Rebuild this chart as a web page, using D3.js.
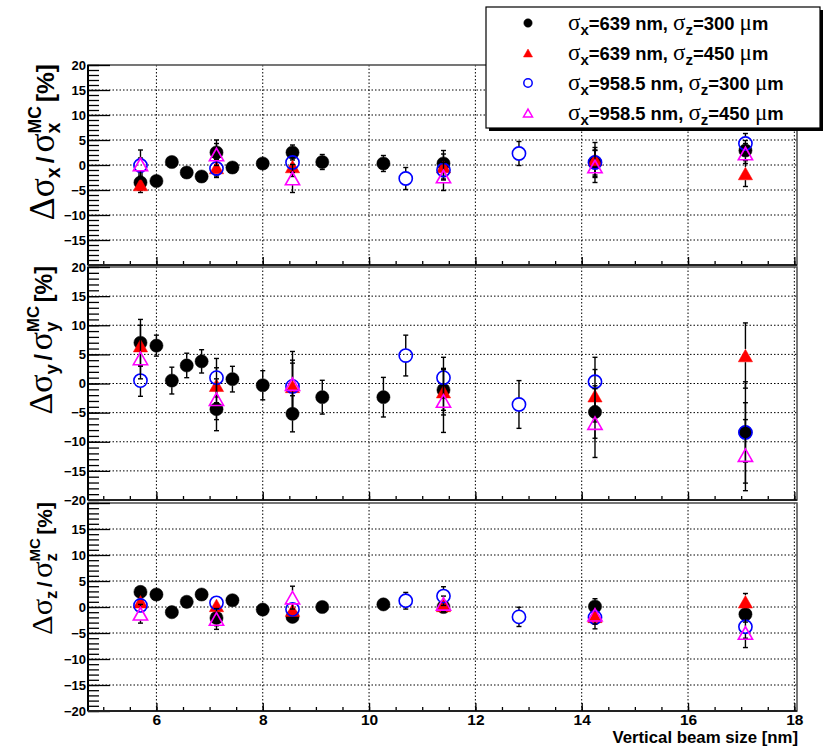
<!DOCTYPE html>
<html>
<head>
<meta charset="utf-8">
<script src="https://cdn.jsdelivr.net/npm/d3@7"></script>
<style>
  body { margin: 0; background: #fff; }
  svg { display: block; font-family: "Liberation Sans", Arial, sans-serif; }
</style>
</head>
<body>
<svg id="chart" width="828" height="746"></svg>
<script>
// ---- data -------------------------------------------------------------
// vertical beam size [nm] sampled by each fit configuration
const xSet1 = [5.70, 6.00, 6.29, 6.57, 6.85, 7.13, 7.43, 8.00, 8.56, 9.12, 10.27, 11.40, 14.25, 17.08];
const xSet2 = [5.70, 7.13, 8.56, 11.40, 14.25, 17.08];
const xSet3 = [5.70, 7.13, 8.56, 10.69, 11.40, 12.82, 14.25, 17.08];
const xSet4 = [5.70, 7.13, 8.56, 11.40, 14.25, 17.08];

// relative deviation of sigma_x from MC [%]
const dx1 = [-3.5, -3.2, 0.6, -1.5, -2.3, 2.5, -0.5, 0.3, 2.5, 0.6, 0.3, 0.3, 0.5, 2.9];
const dx1Err = [1.5, 1.0, 1.0, 1.0, 1.0, 2.5, 1.0, 1.0, 1.5, 1.5, 1.6, 2.6, 3.0, 2.0];
const dx2 = [-3.9, -0.5, -0.3, -0.3, 1.1, -1.7];
const dx2Err = [1.6, 1.7, 2.0, 2.5, 3.4, 2.6];
const dx3 = [-0.1, -0.7, 0.5, -2.7, -1.0, 2.3, 0.5, 4.3];
const dx3Err = [1.5, 1.8, 2.0, 2.2, 2.0, 2.4, 2.5, 2.0];
const dx4 = [0.1, 2.1, -2.7, -2.3, -0.3, 2.3];
const dx4Err = [2.9, 2.2, 2.8, 2.8, 3.2, 2.0];

// relative deviation of sigma_y from MC [%]
const dy1 = [7.0, 6.5, 0.5, 3.1, 3.8, -4.4, 0.75, -0.3, -5.2, -2.35, -2.35, -1.1, -4.9, -8.4];
const dy1Err = [4.0, 1.8, 2.3, 2.1, 2.0, 3.7, 2.2, 2.5, 3.1, 2.9, 3.4, 3.5, 4.5, 5.1];
const dy2 = [6.5, -0.3, -0.5, -1.4, -2.1, 4.8];
const dy2Err = [3.5, 3.0, 4.5, 4.0, 4.5, 5.6];
const dy3 = [0.5, 1.0, -0.5, 4.8, 1.0, -3.6, 0.3, -8.4];
const dy3Err = [2.7, 3.3, 4.0, 3.5, 3.5, 4.1, 4.2, 8.7];
const dy4 = [4.3, -2.7, -0.1, -3.0, -6.8, -12.3];
const dy4Err = [3.5, 3.5, 5.6, 5.4, 5.9, 6.1];

// relative deviation of sigma_z from MC [%]
const dz1 = [2.9, 2.4, -1.0, 1.0, 2.4, -2.1, 1.3, -0.5, -1.9, 0.0, 0.5, 0.0, 0.1, -1.4];
const dz1Err = [1.0, 0.8, 0.8, 0.8, 0.8, 1.5, 0.8, 0.8, 1.0, 0.8, 0.8, 1.0, 1.5, 1.5];
const dz2 = [1.0, 0.3, -0.6, 0.3, -1.8, 1.0];
const dz2Err = [1.0, 1.0, 1.2, 1.0, 1.2, 1.6];
const dz3 = [0.3, 0.8, -0.45, 1.2, 2.1, -1.9, -2.0, -3.8];
const dz3Err = [1.2, 1.2, 1.2, 1.6, 1.8, 1.85, 2.2, 2.2];
const dz4 = [-1.3, -2.3, 1.8, 0.6, -1.5, -5.0];
const dz4Err = [1.8, 2.0, 2.2, 1.5, 1.8, 2.8];

// legend entries: [sigma_x value, sigma_z value]
const seriesSigmaX = ["639", "639", "958.5", "958.5"];
const seriesSigmaZ = ["300", "450", "300", "450"];

const xTicks = [6, 8, 10, 12, 14, 16, 18];
const yTicks = [-20, -15, -10, -5, 0, 5, 10, 15, 20];
const yGrid = [-15, -10, -5, 0, 5, 10, 15];

// ---- style ------------------------------------------------------------
const SANS = '"Liberation Sans", Arial, sans-serif';
const SERIF = '"Liberation Serif", "Times New Roman", serif';
const styles = [
  { shape: "circle",   fill: "#000",    stroke: "#000" },
  { shape: "triangle", fill: "#ff0000", stroke: "#ff0000" },
  { shape: "circle",   fill: "none",    stroke: "#0000ff" },
  { shape: "triangle", fill: "none",    stroke: "#ff00ff" }
];

const svg = d3.select("#chart");
const L = 88, R = 797;
const x = d3.scaleLinear().domain([4.713, 18.05]).range([L, R]);

// each pad shows the tick labels listed in `labels` (shared edges labelled once)
const panels = [
  { sub: "x", top: 65,  bottom: 265, titleX: 54, titleSize: 24.5,
    labels: [-15, -10, -5, 0, 5, 10, 15, 20],
    vals: [[xSet1, dx1, dx1Err], [xSet2, dx2, dx2Err], [xSet3, dx3, dx3Err], [xSet4, dx4, dx4Err]] },
  { sub: "y", top: 267, bottom: 500, titleX: 52, titleSize: 23.3,
    labels: yTicks,
    vals: [[xSet1, dy1, dy1Err], [xSet2, dy2, dy2Err], [xSet3, dy3, dy3Err], [xSet4, dy4, dy4Err]] },
  { sub: "z", top: 503, bottom: 711, titleX: 52, titleSize: 21,
    labels: [-20, -15, -10, -5, 0, 5, 10, 15],
    vals: [[xSet1, dz1, dz1Err], [xSet2, dz2, dz2Err], [xSet3, dz3, dz3Err], [xSet4, dz4, dz4Err]] }
];

function marker(g, shape, cx, cy, s, st, sw) {
  if (shape === "circle") {
    g.append("circle").attr("cx", cx).attr("cy", cy).attr("r", s)
      .attr("fill", st.fill).attr("stroke", st.stroke).attr("stroke-width", sw);
  } else {
    const w = s * 1.08, h = s * 0.95;
    g.append("path")
      .attr("d", `M${cx},${cy - h}L${cx + w},${cy + h}L${cx - w},${cy + h}Z`)
      .attr("fill", st.fill).attr("stroke", st.stroke).attr("stroke-width", sw)
      .attr("stroke-linejoin", "miter");
  }
}

// rotated axis title built from runs: Δσ_s / σ_s^MC [%]
function axisTitle(g, sub, xPos, yEnd, size) {
  const t = g.append("g");
  let cx = 0;
  const run = (txt, opt) => {
    const el = t.append("text").attr("x", cx).attr("y", opt.dy || 0).text(txt)
      .attr("font-family", opt.serif ? SERIF : SANS)
      .attr("font-weight", opt.serif ? "normal" : "bold")
      .attr("font-size", opt.size).attr("fill", "#000");
    return el.node().getComputedTextLength();
  };
  const greek = { serif: true, size: size * 1.45 };
  const latin = { size: size };
  const subO = { size: size * 0.8, dy: size * 0.25 };
  const supO = { size: size * 0.72, dy: -size * 0.55 };
  cx += run("Δσ", greek);
  cx += run(sub, subO) + size * 0.08;
  cx += size * 0.08;
  cx += run("/", latin) + size * 0.16;
  cx += run("σ", greek);
  const w1 = run(sub, subO), w2 = run("MC", supO);
  cx += Math.max(w1, w2) + size * 0.16;
  cx += run("[%]", latin);
  t.attr("transform", `translate(${xPos},${yEnd}) rotate(-90) translate(${-cx},0)`);
}

panels.forEach((p, pi) => {
  const y = d3.scaleLinear().domain([-20, 20]).range([p.bottom, p.top]);
  const g = svg.append("g");

  // dotted grid
  const grid = g.append("g").attr("stroke", "#000").attr("stroke-width", 1)
    .attr("stroke-dasharray", "1.5,2");
  xTicks.forEach(v => grid.append("line").attr("x1", x(v)).attr("x2", x(v))
    .attr("y1", p.top).attr("y2", p.bottom));
  yGrid.forEach(v => grid.append("line").attr("x1", L).attr("x2", R)
    .attr("y1", y(v)).attr("y2", y(v)));

  // frame
  g.append("rect").attr("x", L).attr("y", p.top).attr("width", R - L).attr("height", p.bottom - p.top)
    .attr("fill", "none").attr("stroke", "#555").attr("stroke-width", 1.6);

  // y axis: minor every 1, major every 5, ticks pointing inward
  const yMinor = g.append("g").attr("transform", `translate(${L},0)`)
    .call(d3.axisLeft(y).tickValues(d3.range(-20, 21, 1)).tickSize(-11).tickFormat(""));
  yMinor.select(".domain").remove();
  const yMajor = g.append("g").attr("transform", `translate(${L},0)`)
    .call(d3.axisLeft(y).tickValues(yTicks).tickSize(-22).tickPadding(2)
      .tickFormat(d => p.labels.includes(d) ? (d < 0 ? "−" + Math.abs(d) : String(d)) : ""));
  yMajor.select(".domain").attr("stroke", "#000").attr("stroke-width", 2)
    .attr("d", `M0,${p.top}V${p.bottom}`);
  g.selectAll(".tick line").attr("stroke", "#000").attr("stroke-width", 1.3);
  yMajor.selectAll("text").attr("font-size", 13).attr("font-weight", "bold")
    .attr("font-family", SANS).attr("fill", "#000");

  // x axis along bottom of the frame
  const xMinor = g.append("g").attr("transform", `translate(0,${p.bottom})`)
    .call(d3.axisBottom(x).tickValues(d3.range(5, 18.01, 0.5)).tickSize(-4).tickFormat(""));
  xMinor.select(".domain").remove();
  const xMajor = g.append("g").attr("transform", `translate(0,${p.bottom})`)
    .call(d3.axisBottom(x).tickValues(xTicks).tickSize(-8).tickPadding(2.5)
      .tickFormat(pi === 2 ? d3.format("d") : ""));
  xMajor.select(".domain").attr("stroke", "#222").attr("stroke-width", 2)
    .attr("d", `M${L},0H${R}`);
  g.selectAll(".tick line").attr("stroke", "#000").attr("stroke-width", 1.3);
  xMajor.selectAll("text").attr("font-size", 15.5).attr("font-weight", "bold")
    .attr("font-family", SANS).attr("fill", "#000");

  // points with error bars, drawn series by series
  const R0 = 6.6;
  p.vals.forEach((s, si) => {
    const [xs, vs, es] = s;
    const st = styles[si];
    const sg = g.append("g");
    xs.forEach((xv, i) => {
      const px = x(xv), py = y(vs[i]);
      const yt = y(vs[i] + es[i]), yb = y(vs[i] - es[i]);
      const bar = sg.append("g").attr("stroke", "#000").attr("stroke-width", 1.4);
      if (py - yt > R0) {
        bar.append("line").attr("x1", px).attr("x2", px).attr("y1", py - R0).attr("y2", yt);
        bar.append("line").attr("x1", px - 2.5).attr("x2", px + 2.5).attr("y1", yt).attr("y2", yt);
      }
      if (yb - py > R0) {
        bar.append("line").attr("x1", px).attr("x2", px).attr("y1", py + R0).attr("y2", yb);
        bar.append("line").attr("x1", px - 2.5).attr("x2", px + 2.5).attr("y1", yb).attr("y2", yb);
      }
      marker(sg, st.shape, px, py, R0, st, st.fill === "none" ? 1.6 : 0.5);
    });
  });

  axisTitle(g, p.sub, p.titleX, p.top - 1, p.titleSize);
});

// x-axis title
svg.append("text").attr("x", 798).attr("y", 742.8).attr("text-anchor", "end")
  .attr("font-size", 16.8).attr("font-weight", "bold").attr("font-family", SANS)
  .text("Vertical beam size [nm]");

// legend
const lg = svg.append("g");
const LX = 486, LY = 7, LW = 334, LH = 121;
lg.append("rect").attr("x", LX + 3).attr("y", LY + 3).attr("width", LW).attr("height", LH).attr("fill", "#000");
lg.append("rect").attr("x", LX).attr("y", LY).attr("width", LW).attr("height", LH)
  .attr("fill", "#fff").attr("stroke", "#000").attr("stroke-width", 1.2);

seriesSigmaX.forEach((sx, i) => {
  const cy = 23 + i * 30;
  const st = styles[i];
  marker(lg, st.shape, 528, cy, 4.2, st, st.fill === "none" ? 1.5 : 0.5);
  const t = lg.append("text").attr("x", 568).attr("y", cy + 6.5)
    .attr("font-size", 18.4).attr("font-weight", "bold").attr("font-family", SANS);
  const gk = (s) => t.append("tspan").attr("font-family", SERIF).attr("font-weight", "normal")
    .attr("font-size", 23).text(s);
  const sb = (s) => {
    t.append("tspan").attr("font-size", 15).attr("dy", 5).text(s);
  };
  gk("σ"); sb("x");
  t.append("tspan").attr("dy", -5).text(`=${sx} nm, `);
  gk("σ"); sb("z");
  t.append("tspan").attr("dy", -5).text(`=${seriesSigmaZ[i]} `);
  gk("μ");
  t.append("tspan").text("m");
});
</script>
</body>
</html>
